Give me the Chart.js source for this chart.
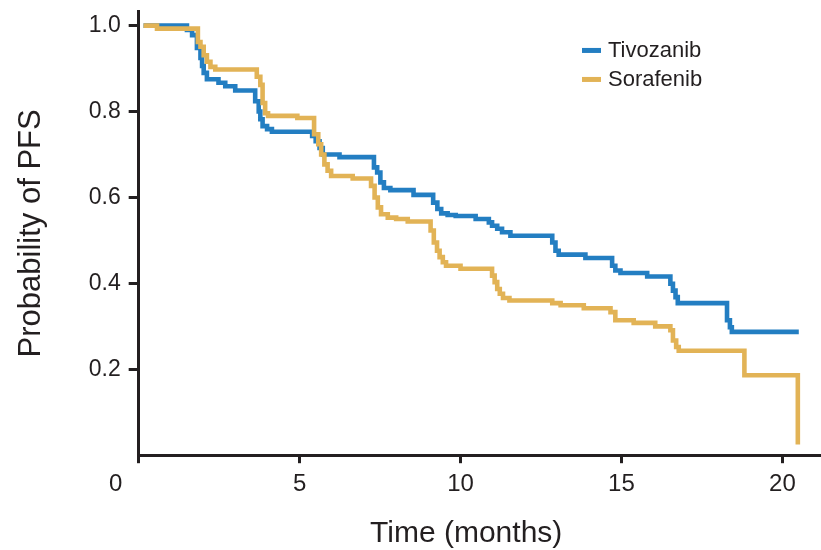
<!DOCTYPE html>
<html>
<head>
<meta charset="utf-8">
<script src="https://cdn.jsdelivr.net/npm/chart.js@4.4.1/dist/chart.umd.min.js"></script>
<style>
  html, body { margin: 0; padding: 0; background: #fff; }
  #wrap { width: 821px; height: 550px; position: relative; }
</style>
</head>
<body>
<div id="wrap"><canvas id="pfsChart"></canvas></div>
<script>
// Kaplan-Meier estimates: event time (months) and PFS probability after the step
const tivoTimes = [0.15, 1.50, 1.66, 1.81, 1.92, 1.97, 2.02, 2.12, 2.48, 2.69, 3.00, 3.62, 3.73, 3.78, 3.85, 3.99, 4.14,
  5.39, 5.50, 5.62, 5.72, 6.24, 7.31, 7.41, 7.51, 7.62, 7.82, 8.54, 9.15, 9.28, 9.40, 9.60, 9.85, 10.47, 10.88, 10.98,
  11.14, 11.29, 11.55, 12.85, 12.95, 13.05, 13.88, 14.71, 14.81, 14.97, 15.80, 16.52, 16.60, 16.68, 16.75, 18.28, 18.37,
  18.43, 20.51];
const tivoSurv = [1.0, 0.99, 0.978, 0.948, 0.925, 0.906, 0.89, 0.875, 0.867, 0.859, 0.849, 0.824, 0.80, 0.782, 0.766, 0.759, 0.753,
  0.743, 0.731, 0.715, 0.70, 0.694, 0.67, 0.658, 0.635, 0.622, 0.617, 0.606, 0.588, 0.573, 0.563, 0.559, 0.557, 0.55, 0.542, 0.534,
  0.527, 0.519, 0.511, 0.495, 0.476, 0.467, 0.459, 0.441, 0.43, 0.424, 0.416, 0.399, 0.383, 0.368, 0.354, 0.314, 0.298,
  0.287, 0.287];

const soraTimes = [0.15, 0.57, 1.84, 1.92, 2.02, 2.12, 2.23, 2.38, 3.67, 3.78, 3.85, 3.93, 4.02, 4.93, 5.45, 5.58, 5.67, 5.77,
  5.87, 5.98, 6.65, 7.22, 7.33, 7.43, 7.53, 7.74, 8.00, 8.36, 9.07, 9.17, 9.27, 9.35, 9.45, 9.55, 10.00, 10.98, 11.06, 11.14,
  11.22, 11.32, 11.52, 12.85, 13.11, 13.83, 14.66, 14.81, 15.38, 16.05, 16.52, 16.60, 16.70, 16.78, 18.82, 20.48];
const soraSurv = [1.0, 0.993, 0.962, 0.951, 0.931, 0.916, 0.904, 0.898, 0.881, 0.862, 0.82, 0.796, 0.79, 0.785, 0.747, 0.724, 0.70, 0.677,
  0.662, 0.65, 0.644, 0.627, 0.60, 0.577, 0.561, 0.553, 0.55, 0.544, 0.523, 0.495, 0.476, 0.461, 0.449, 0.441, 0.434, 0.418, 0.403, 0.387,
  0.376, 0.366, 0.36, 0.354, 0.349, 0.342, 0.333, 0.314, 0.308, 0.30, 0.291, 0.267, 0.252, 0.243, 0.186, 0.025];

const seriesNames = ['Tivozanib', 'Sorafenib'];
const xTicks = [0, 5, 10, 15, 20];
const yTicks = [0.2, 0.4, 0.6, 0.8, 1.0];

const INK = '#231f20';
const BLUE = '#237ec2';
const GOLD = '#e2b356';

const toPoints = (ts, ss) => ts.map((t, i) => ({ x: t, y: ss[i] }));

// legend inside the plot, top right, plus the offset origin label and x title
const extras = {
  id: 'extras',
  afterDraw(chart) {
    const { ctx, chartArea, scales } = chart;
    ctx.save();
    // legend
    ctx.font = '22px "Liberation Sans", Arial, sans-serif';
    ctx.textBaseline = 'middle';
    ctx.textAlign = 'left';
    const lx = chartArea.right - 239;
    chart.data.datasets.forEach((ds, i) => {
      const ly = chartArea.top + 39 + i * 29;
      ctx.fillStyle = ds.borderColor;
      ctx.fillRect(lx, ly - 2.5, 19, 5);
      ctx.fillStyle = INK;
      ctx.fillText(ds.label, lx + 26, ly);
    });
    // "0" sits left of the corner
    const x = scales.x;
    ctx.font = '24px "Liberation Sans", Arial, sans-serif';
    ctx.textAlign = 'center';
    ctx.fillText('0', x.getPixelForValue(0) - 23, x.top + 29);
    // x axis title
    ctx.font = '30px "Liberation Sans", Arial, sans-serif';
    ctx.textBaseline = 'alphabetic';
    ctx.fillText('Time (months)', chartArea.left + (chartArea.right - chartArea.left) * 0.48, 542);
    ctx.restore();
  }
};

new Chart(document.getElementById('pfsChart'), {
  type: 'line',
  data: {
    datasets: [{
      label: seriesNames[0],
      data: toPoints(tivoTimes, tivoSurv),
      borderColor: BLUE,
      order: 1
    }, {
      label: seriesNames[1],
      data: toPoints(soraTimes, soraSurv),
      borderColor: GOLD,
      order: 0
    }]
  },
  options: {
    responsive: true,
    maintainAspectRatio: false,
    animation: false,
    layout: { padding: { left: 10, top: 10, right: 0, bottom: 44 } },
    elements: {
      line: { stepped: true, borderWidth: 4.6, fill: false, tension: 0, borderCapStyle: 'butt', borderJoinStyle: 'miter' },
      point: { radius: 0, hoverRadius: 0 }
    },
    plugins: {
      legend: { display: false },
      tooltip: { enabled: false }
    },
    scales: {
      x: {
        type: 'linear',
        min: 0,
        max: 21.2,
        afterBuildTicks: (s) => { s.ticks = xTicks.map(v => ({ value: v })); },
        ticks: {
          color: INK,
          font: { family: '"Liberation Sans", Arial, sans-serif', size: 24 },
          padding: 7,
          maxRotation: 0,
          callback: (v) => (v === 0 ? '' : v)
        },
        grid: { drawOnChartArea: false, drawTicks: true, tickLength: 8, color: INK, lineWidth: 3 },
        border: { display: true, color: INK, width: 3 }
      },
      y: {
        min: 0,
        max: 1.033,
        afterBuildTicks: (s) => { s.ticks = yTicks.map(v => ({ value: v })); },
        ticks: {
          color: INK,
          // small line height keeps the top label from padding the plot down
          font: { family: '"Liberation Sans", Arial, sans-serif', size: 23, lineHeight: 0.3 },
          padding: 8,
          callback: (v) => v.toFixed(1)
        },
        grid: { drawOnChartArea: false, drawTicks: true, tickLength: 10, color: INK, lineWidth: 3 },
        border: { display: true, color: INK, width: 3 },
        title: {
          display: true,
          text: 'Probability of PFS',
          color: INK,
          font: { family: '"Liberation Sans", Arial, sans-serif', size: 31 },
          padding: { top: 2.5, bottom: 31 }
        }
      }
    }
  },
  plugins: [extras]
});
</script>
</body>
</html>
